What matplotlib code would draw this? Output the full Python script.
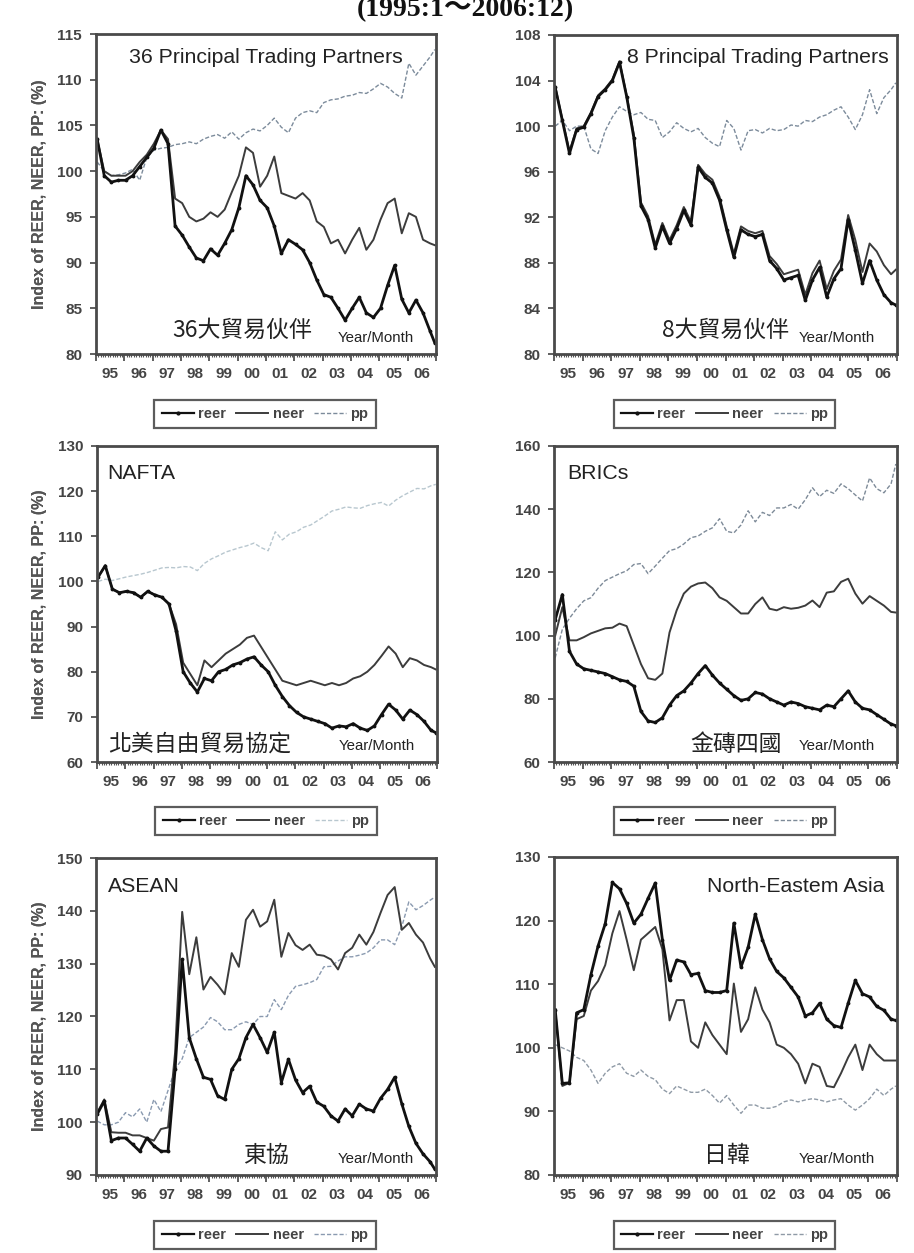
import matplotlib
matplotlib.use("Agg")
import matplotlib.pyplot as plt
from matplotlib.lines import Line2D

W, H = 914, 1253

# months since 1995:1, read every quarter plus the last month
months = list(range(0, 144, 3)) + [143]
year_labels = ["95", "96", "97", "98", "99", "00", "01", "02", "03", "04", "05", "06"]

# 36 principal trading partners
t36_reer = [103.5, 99.5, 98.8, 99.0, 99.0, 99.5, 100.5, 101.5, 102.5, 104.5, 103.0, 94.0,
            93.0, 91.7, 90.5, 90.2, 91.5, 90.8, 92.1, 93.6, 96.0, 99.5, 98.5, 96.8,
            96.0, 94.0, 91.0, 92.5, 92.0, 91.4, 90.0, 88.1, 86.5, 86.2, 85.0, 83.7,
            85.0, 86.2, 84.5, 84.0, 85.0, 87.5, 89.7, 86.0, 84.5, 85.9, 84.5, 82.5, 81.2]
t36_neer = [103.5, 100.0, 99.5, 99.5, 99.5, 100.0, 101.0, 101.8, 103.0, 104.5, 103.5, 97.0,
            96.5, 95.0, 94.5, 94.8, 95.5, 95.0, 95.8, 97.7, 99.5, 102.6, 102.0, 98.3,
            99.5, 101.6, 97.6, 97.3, 97.0, 97.6, 96.8, 94.5, 93.9, 92.1, 92.5, 91.0,
            92.5, 93.8, 91.4, 92.5, 94.7, 96.5, 97.0, 93.2, 95.4, 95.0, 92.5, 92.1, 91.9]
t36_pp = [101.0, 100.0, 99.5, 99.6, 99.8, 100.2, 99.0, 101.5, 102.3, 102.5, 102.6, 102.9,
          103.0, 103.2, 103.0, 103.5, 103.8, 104.0, 103.6, 104.3, 103.5, 104.2, 104.6, 104.4,
          105.0, 105.8, 104.8, 104.2, 105.8, 106.4, 106.6, 106.4, 107.5, 107.8, 107.9, 108.2,
          108.3, 108.6, 108.5, 109.0, 109.6, 109.2, 108.5, 108.0, 111.8, 110.5, 111.5, 112.5, 113.3]

# 8 principal trading partners
t8_reer = [103.4, 100.5, 97.6, 99.7, 99.9, 101.1, 102.6, 103.2, 104.0, 105.6, 102.6, 99.0,
           93.0, 91.8, 89.3, 91.2, 89.7, 91.0, 92.6, 91.3, 96.4, 95.5, 95.0, 93.5,
           90.9, 88.5, 90.9, 90.5, 90.3, 90.5, 88.2, 87.5, 86.5, 86.7, 86.9, 84.7,
           86.5, 87.6, 85.0, 86.6, 87.5, 91.8, 89.1, 86.2, 88.2, 86.5, 85.2, 84.5, 84.3]
t8_neer = [103.5, 100.6, 97.8, 99.8, 100.0, 101.2, 102.7, 103.3, 104.1, 105.7, 102.7, 99.3,
           93.3, 92.1, 89.6, 91.5, 90.0, 91.3, 92.9, 91.6, 96.6, 95.8, 95.3, 93.8,
           91.2, 88.8, 91.2, 90.8, 90.6, 90.8, 88.6, 87.9, 87.0, 87.2, 87.4, 85.2,
           87.1, 88.2, 85.7, 87.3, 88.3, 92.2, 90.0, 87.2, 89.7, 89.0, 87.8, 87.0, 87.4]
t8_pp = [100.0, 100.5, 99.6, 100.0, 100.0, 98.0, 97.6, 99.6, 100.8, 101.7, 101.3, 101.0,
         101.2, 100.6, 100.5, 99.0, 99.5, 100.3, 99.8, 99.5, 99.8, 99.0, 98.5, 98.2,
         100.5, 99.8, 97.9, 99.6, 99.7, 99.4, 99.8, 99.6, 99.7, 100.1, 100.0, 100.5,
         100.4, 100.8, 101.0, 101.4, 101.7, 100.8, 99.7, 101.0, 103.2, 101.1, 102.5, 103.2, 103.8]

# NAFTA
nafta_reer = [101.0, 103.5, 98.3, 97.5, 97.8, 97.5, 96.5, 97.8, 97.0, 96.5, 95.0, 89.0,
              80.0, 77.5, 75.5, 78.5, 78.0, 80.0, 80.5, 81.5, 82.0, 82.8, 83.3, 81.5,
              80.0, 77.0, 74.5, 72.5, 71.0, 70.0, 69.5, 69.0, 68.5, 67.5, 68.0, 67.8,
              68.5, 67.5, 67.0, 68.0, 70.5, 72.8, 71.5, 69.5, 71.5, 70.5, 69.0, 67.0, 66.5]
nafta_neer = [101.0, 103.5, 98.3, 97.5, 97.8, 97.5, 96.5, 97.8, 97.0, 96.5, 95.0, 90.5,
              82.0, 79.5, 77.0, 82.5, 81.0, 82.5, 84.0, 85.0, 86.0, 87.5, 88.0, 85.5,
              83.0, 80.5, 78.0, 77.5, 77.0, 77.5, 78.0, 77.5, 77.0, 77.5, 77.0, 77.5,
              78.5, 79.0, 80.0, 81.5, 83.5, 85.6, 84.0, 81.0, 83.0, 82.5, 81.5, 81.0, 80.5]
nafta_pp = [100.0, 100.5, 100.2, 100.6, 101.0, 101.3, 101.6, 102.0, 102.5, 103.0, 103.1, 103.0,
            103.3, 103.2, 102.4, 104.0, 105.0, 105.7, 106.5, 107.0, 107.5, 107.9, 108.5, 107.5,
            106.8, 111.0, 109.2, 110.5, 111.0, 112.0, 112.5, 113.5, 114.5, 115.6, 116.0, 116.5,
            116.3, 116.2, 116.8, 117.2, 117.5, 116.7, 118.0, 119.0, 119.8, 120.6, 120.5, 121.2, 121.5]

# BRICs
bric_reer = [105.0, 113.0, 95.0, 91.0, 89.5, 89.0, 88.5, 88.0, 87.0, 86.0, 85.5, 84.0,
             76.0, 73.0, 72.5, 74.0, 78.0, 81.0, 82.5, 85.0, 88.0, 90.5, 87.5, 85.0,
             83.0, 81.0, 79.5, 80.0, 82.0, 81.5, 80.0, 79.0, 78.0, 79.0, 78.5, 77.5,
             77.0, 76.5, 78.0, 77.5, 80.0, 82.5, 79.0, 77.0, 76.5, 75.0, 73.5, 72.0, 71.5]
bric_neer = [100.0, 109.0, 98.5, 98.5, 99.5, 100.7, 101.5, 102.3, 102.5, 103.8, 103.0, 97.0,
             91.0, 86.5, 86.0, 88.0, 101.0, 108.0, 113.3, 115.5, 116.5, 116.8, 115.0, 112.1,
             111.0, 109.0, 107.0, 107.0, 110.0, 112.1, 108.5, 108.0, 109.0, 108.5, 108.8, 109.5,
             111.1, 109.0, 113.6, 114.0, 117.0, 118.0, 113.3, 110.1, 112.5, 111.0, 109.5, 107.5, 107.3]
bric_pp = [93.0, 102.0, 105.5, 108.5, 111.0, 112.0, 115.0, 117.4, 118.5, 119.6, 120.5, 122.5,
           122.8, 119.6, 122.0, 124.5, 126.9, 127.5, 129.0, 131.0, 131.5, 133.0, 134.1, 137.0,
           133.0, 132.5, 135.0, 139.5, 136.0, 139.0, 138.0, 140.4, 140.4, 141.5, 140.0, 143.0,
           146.8, 144.0, 146.0, 145.0, 148.0, 146.5, 144.5, 142.6, 149.9, 146.5, 145.2, 148.0, 154.3]

# ASEAN
asean_reer = [101.5, 104.0, 96.5, 97.0, 97.0, 95.8, 94.5, 97.0, 95.5, 94.5, 94.5, 110.0,
              130.8, 116.0, 112.0, 108.5, 108.1, 105.0, 104.3, 110.0, 112.0, 116.0, 118.5, 116.0,
              113.2, 117.0, 107.5, 111.9, 108.0, 105.6, 106.8, 103.8, 103.0, 101.2, 100.2, 102.5,
              101.2, 103.4, 102.5, 102.1, 104.5, 106.2, 108.5, 103.5, 99.2, 96.0, 94.0, 92.5, 91.1]
asean_neer = [101.8, 104.3, 98.1, 98.0, 98.0, 97.5, 97.5, 97.0, 96.5, 98.7, 99.0, 113.2,
              139.8, 128.0, 135.0, 125.1, 127.5, 126.0, 124.2, 132.0, 129.4, 138.3, 140.2, 137.0,
              138.0, 142.1, 131.3, 135.8, 133.5, 132.6, 133.6, 131.7, 131.5, 130.8, 128.9, 132.0,
              133.0, 135.5, 133.6, 136.0, 139.6, 143.0, 144.5, 136.4, 137.7, 135.5, 134.0, 131.0, 129.4]
asean_pp = [100.2, 99.5, 99.5, 100.0, 101.8, 101.0, 102.5, 100.0, 104.3, 102.0, 106.0, 110.0,
            112.0, 116.0, 117.0, 118.0, 119.8, 119.0, 117.5, 117.5, 118.5, 119.0, 118.5, 120.0,
            120.0, 123.2, 121.3, 124.0, 125.7, 126.0, 126.4, 127.0, 129.4, 129.5, 130.5, 131.3,
            131.3, 131.6, 132.0, 133.0, 134.5, 134.5, 133.6, 137.0, 141.7, 140.2, 141.0, 142.0, 142.6]

# North-Eastern Asia (Japan, Korea)
nea_reer = [106.0, 94.4, 94.5, 105.5, 106.0, 111.5, 116.0, 119.5, 126.0, 125.0, 122.7, 119.6,
            121.0, 123.5, 125.9, 117.0, 110.6, 113.8, 113.5, 111.5, 111.7, 109.0, 108.7, 108.7,
            109.0, 119.6, 112.7, 115.8, 121.0, 117.0, 114.0, 112.0, 111.0, 109.5, 108.0, 105.0,
            105.5, 107.0, 104.5, 103.5, 103.2, 107.0, 110.6, 108.5, 108.0, 106.5, 105.9, 104.5, 104.3]
nea_neer = [106.0, 94.0, 94.5, 104.5, 105.0, 109.0, 110.5, 113.0, 118.0, 121.5, 117.0, 112.2,
            117.0, 118.0, 119.0, 115.5, 104.3, 107.5, 107.5, 101.0, 100.0, 104.0, 102.0, 100.5,
            99.0, 110.1, 102.5, 104.5, 109.5, 106.0, 104.0, 100.5, 100.0, 99.0, 97.5, 94.4,
            97.5, 97.0, 94.0, 93.8, 96.0, 98.5, 100.5, 96.5, 100.5, 99.0, 98.0, 98.0, 98.0]
nea_pp = [100.5, 100.0, 99.5, 98.5, 98.0, 96.5, 94.4, 96.0, 97.0, 97.5, 96.0, 95.5,
          96.5, 95.5, 95.0, 93.5, 92.8, 94.0, 93.5, 93.0, 93.0, 93.5, 92.5, 91.3,
          92.5, 91.0, 89.7, 91.0, 91.0, 90.5, 90.5, 90.8, 91.5, 91.8, 91.5, 91.8,
          92.0, 91.8, 91.5, 91.8, 92.0, 91.0, 90.2, 91.0, 92.0, 93.5, 92.5, 93.5, 94.0]

tick_font = ["Liberation Sans Narrow", "Liberation Sans", "DejaVu Sans"]
cjk = ["Noto Sans CJK TC", "DejaVu Sans"]

panels = [
    dict(box=(96, 34, 436, 354), ylim=(80, 115), step=5, reer=t36_reer, neer=t36_neer, pp=t36_pp,
         ppc="#7c8b9b", name="36 Principal Trading Partners", name_xy=(129, 63), ha="left",
         zh="36大貿易伙伴", zh_xy=(172, 337), leg_y=414),
    dict(box=(554, 35, 897, 354), ylim=(80, 108), step=4, reer=t8_reer, neer=t8_neer, pp=t8_pp,
         ppc="#7c8b9b", name="8 Principal Trading Partners", name_xy=(889, 63), ha="right",
         zh="8大貿易伙伴", zh_xy=(662, 337), leg_y=414),
    dict(box=(97, 446, 437, 762), ylim=(60, 130), step=10, reer=nafta_reer, neer=nafta_neer, pp=nafta_pp,
         ppc="#b8c7cf", name="NAFTA", name_xy=(107, 479), ha="left",
         zh="北美自由貿易協定", zh_xy=(108, 751), leg_y=821),
    dict(box=(554, 446, 897, 762), ylim=(60, 160), step=20, reer=bric_reer, neer=bric_neer, pp=bric_pp,
         ppc="#7d8a98", name="BRICs", name_xy=(567, 479), ha="left",
         zh="金磚四國", zh_xy=(690, 751), leg_y=821),
    dict(box=(96, 858, 436, 1175), ylim=(90, 150), step=10, reer=asean_reer, neer=asean_neer, pp=asean_pp,
         ppc="#8a9ab0", name="ASEAN", name_xy=(108, 892), ha="left",
         zh="東協", zh_xy=(243, 1162), leg_y=1235),
    dict(box=(554, 857, 897, 1175), ylim=(80, 130), step=10, reer=nea_reer, neer=nea_neer, pp=nea_pp,
         ppc="#8f9aa6", name="North-Eastem Asia", name_xy=(884, 892), ha="right",
         zh="日韓", zh_xy=(704, 1162), leg_y=1235),
]

x = [1995 + (m + 0.5) / 12 for m in months]

fig = plt.figure(figsize=(W / 100, H / 100), dpi=100)
fig.patch.set_facecolor("white")


def fx(px):
    return px / W


def fy(py):
    return 1 - py / H


fig.text(fx(465), fy(16.5), "(1995:1～2006:12)", ha="center", va="baseline", fontsize=20,
         fontweight="bold", family=["Liberation Serif", "Noto Sans CJK TC"], color="#111")

for p in panels:
    l, t, r, b = p["box"]
    ax = fig.add_axes([fx(l), fy(b), (r - l) / W, (b - t) / H])
    ax.plot(x, p["pp"], color=p["ppc"], lw=1.0, ls=(0, (3, 1.5)))
    ax.plot(x, p["neer"], color="#3c3c3c", lw=1.4)
    ax.plot(x, p["reer"], color="#111111", lw=2.0, marker=".", ms=3.5)

    lo, hi = p["ylim"]
    ax.set_xlim(1995, 2007)
    ax.set_ylim(lo, hi)
    ax.set_yticks(range(lo, hi + 1, p["step"]))
    ax.set_xticks(range(1995, 2008))
    ax.set_xticks([1995 + k / 12 for k in range(145)], minor=True)
    ax.set_xticklabels([])
    ax.tick_params(axis="y", direction="out", length=4, width=1.2, pad=6, colors="#444",
                   labelsize=11)
    ax.tick_params(axis="x", which="major", direction="out", length=5, width=1.2, colors="#444")
    ax.tick_params(axis="x", which="minor", direction="out", length=2.5, width=0.8, colors="#555")
    for lab in ax.get_yticklabels():
        lab.set_family(tick_font)
        lab.set_fontweight("bold")
    for k, yl in enumerate(year_labels):
        ax.text(1995.5 + k, -0.04, yl, transform=ax.get_xaxis_transform(), ha="center",
                va="top", fontsize=11, fontweight="bold", family=tick_font, color="#444")
    for s in ax.spines.values():
        s.set_color("#4a4a4a")
        s.set_linewidth(2.0)

    fig.text(fx(40), fy((t + b) / 2), "Index of REER, NEER, PP: (%)", rotation=90,
             ha="center", va="center", fontsize=11.5, fontweight="bold",
             family=tick_font, color="#555")
    fig.text(fx(p["name_xy"][0]), fy(p["name_xy"][1]), p["name"], ha=p["ha"], va="baseline",
             fontsize=15.3, family=["Liberation Sans", "DejaVu Sans"], color="#222")
    fig.text(fx(p["zh_xy"][0]), fy(p["zh_xy"][1]), p["zh"], ha="left", va="baseline",
             fontsize=16.5, family=cjk, color="#222")
    fig.text(fx(r - 22), fy(b - 12), "Year/Month", ha="right", va="baseline", fontsize=10.8,
             family=["Liberation Sans", "DejaVu Sans"], color="#222")

    handles = [Line2D([], [], color="#111", lw=1.6, marker=".", ms=4),
               Line2D([], [], color="#3c3c3c", lw=1.4),
               Line2D([], [], color=p["ppc"], lw=1.0, ls=(0, (3, 1.5)))]
    leg = ax.legend(handles, ["reer", "neer", "pp"], loc="center", ncol=3,
                    bbox_to_anchor=(fx((l + r) / 2 - 1), fy(p["leg_y"])),
                    bbox_transform=fig.transFigure, frameon=True, fancybox=False,
                    edgecolor="#333", handlelength=2.2, handletextpad=0.3,
                    columnspacing=0.7, borderpad=0.5,
                    prop=dict(family=tick_font, weight="bold", size=10.5))
    leg.get_frame().set_linewidth(1.6)
    for txt in leg.get_texts():
        txt.set_color("#444")

fig.savefig("out.png", dpi=100)
